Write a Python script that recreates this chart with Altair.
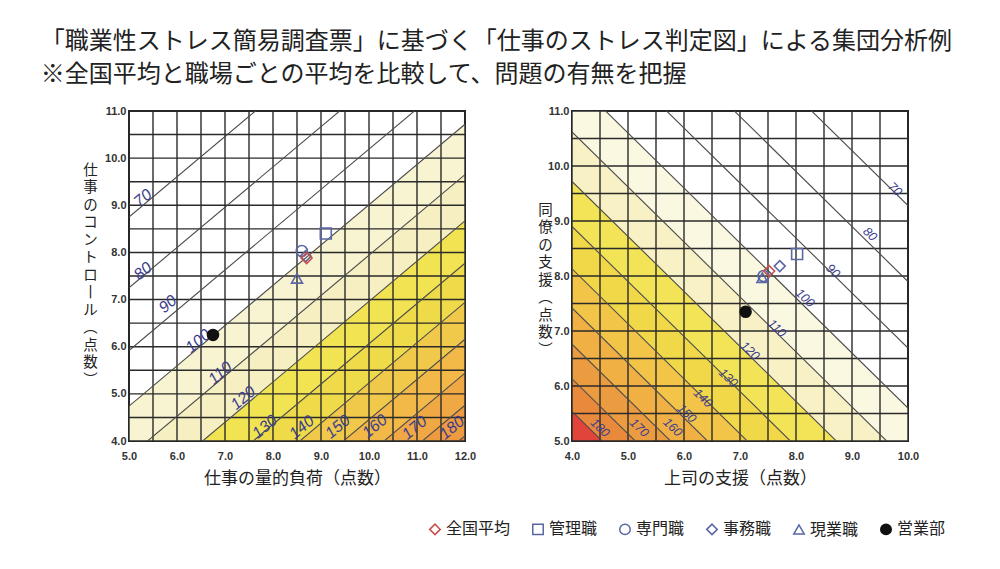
import altair as alt
import pandas as pd

TITLE_1 = "「職業性ストレス簡易調査票」に基づく「仕事のストレス判定図」による集団分析例"
TITLE_2 = "※全国平均と職場ごとの平均を比較して、問題の有無を把握"

# contour levels (health risk) drawn in both charts
levels = [70, 80, 90, 100, 110, 120, 130, 140, 150, 160, 170, 180]

# left chart: y value of each contour line at x=5.0 and at x=12.0
left_line_y_start = [8.75, 7.25, 5.92, 4.74, 3.67, 2.69, 1.79, 0.96, 0.19, -0.54, -1.22, -1.86]
left_line_y_end = [14.73, 13.23, 11.90, 10.72, 9.65, 8.67, 7.77, 6.94, 6.16, 5.44, 4.76, 4.11]
# right chart: y value of each contour line at x=4.0 and at x=10.0
right_line_y_start = [15.28, 13.90, 12.69, 11.60, 10.62, 9.72, 8.90, 8.13, 7.42, 6.76, 6.13, 5.54]
right_line_y_end = [9.28, 7.90, 6.69, 5.60, 4.62, 3.72, 2.90, 2.13, 1.42, 0.76, 0.13, -0.46]

# contour label positions
left_label_x = [5.29, 5.29, 5.81, 6.44, 6.90, 7.38, 7.83, 8.60, 9.35, 10.12, 10.95, 11.73]
left_label_y = [9.15, 7.60, 6.90, 6.12, 5.44, 4.91, 4.30, 4.29, 4.30, 4.31, 4.28, 4.28]
right_label_x = [9.77, 9.32, 8.66, 8.16, 7.66, 7.18, 6.79, 6.34, 6.05, 5.80, 5.20, 4.50]
right_label_y = [9.58, 8.76, 8.09, 7.60, 7.05, 6.64, 6.15, 5.78, 5.50, 5.25, 5.24, 5.24]

# groups plotted
groups = ["事務職", "専門職", "管理職", "現業職", "全国平均", "営業部"]
left_x = [8.68, 8.60, 9.10, 8.50, 8.70, 6.75]
left_y = [7.92, 8.03, 8.40, 7.45, 7.88, 6.25]
right_x = [7.71, 7.42, 8.02, 7.40, 7.52, 7.10]
right_y = [8.18, 8.00, 8.40, 7.97, 8.09, 7.35]

legend_order = ["全国平均", "管理職", "専門職", "事務職", "現業職", "営業部"]
legend_shapes = ["diamond", "square", "circle", "diamond", "triangle-up", "circle"]
legend_stroke = ["#c8504c", "#5a67a4", "#5a67a4", "#5a67a4", "#5a67a4", "#111111"]
legend_fill = ["transparent", "transparent", "transparent", "transparent", "transparent", "#111111"]

# gridlines
left_grid_x = [5.0, 5.5, 6.0, 6.5, 7.0, 7.5, 8.0, 8.5, 9.0, 9.5, 10.0, 10.5, 11.0, 11.5, 12.0]
left_grid_y = [4.0, 4.5, 5.0, 5.5, 6.0, 6.5, 7.0, 7.5, 8.0, 8.5, 9.0, 9.5, 10.0, 10.5, 11.0]
right_grid_x = [4.0, 4.5, 5.0, 5.5, 6.0, 6.5, 7.0, 7.5, 8.0, 8.5, 9.0, 9.5, 10.0]
right_grid_y = [5.0, 5.5, 6.0, 6.5, 7.0, 7.5, 8.0, 8.5, 9.0, 9.5, 10.0, 10.5, 11.0]
left_ticks_x = [5.0, 6.0, 7.0, 8.0, 9.0, 10.0, 11.0, 12.0]
left_ticks_y = [4.0, 5.0, 6.0, 7.0, 8.0, 9.0, 10.0, 11.0]
right_ticks_x = [4.0, 5.0, 6.0, 7.0, 8.0, 9.0, 10.0]
right_ticks_y = [5.0, 6.0, 7.0, 8.0, 9.0, 10.0, 11.0]

# band colours for risk >= 100 (100-110, 110-120, ..., 180+)
left_band_colors = ["#f8f3d0", "#f6efc2", "#f1e352", "#efdb4a", "#f1c94a", "#f2b848",
                    "#f0a845", "#ed9a40", "#e8893a"]
right_band_colors = ["#fbf8e2", "#f8f1c6", "#f2e456", "#f0d848", "#f2c448", "#f0b044",
                     "#ec9c40", "#e8893c", "#e0443a"]

LEFT_YTITLE = ["仕", "事", "の", "コ", "ン", "ト", "ロ", "丨", "ル", "︵", "点", "数", "︶"]
RIGHT_YTITLE = ["同", "僚", "の", "支", "援", "︵", "点", "数", "︶"]

CJK = "Noto Sans CJK JP"
LABEL_COLOR = "#3c3e8c"


def panel(xmin, xmax, ymin, ymax, ys_start, ys_end, band_colors, lab_x, lab_y,
          lab_angle, lab_size, mk_x, mk_y, gx, gy, tx, ty, xtitle, ytitle,
          ytitle_x, ytitle_y, prefix, show_legend):
    xs = alt.Scale(domain=[xmin, xmax], nice=False, zero=False)
    ys = alt.Scale(domain=[ymin, ymax], nice=False, zero=False)
    xa = alt.Axis(
        values=tx, format=".1f", grid=False, ticks=False, domain=False,
        title=xtitle, titleFontSize=17, titleFont=CJK, titleFontWeight="normal",
        titleColor="#222", titleY=37, titleBaseline="middle",
        labelPadding=9, labelFlush=False)
    ya = alt.Axis(
        values=ty, format=".1f", grid=False, ticks=False, domain=False,
        title=ytitle, titleFontSize=14.5, titleFont=CJK, titleFontWeight="normal",
        titleColor="#222", titleAngle=0, titleAlign="center", titleBaseline="top",
        titleX=ytitle_x, titleY=ytitle_y, titleLineHeight=17.5,
        labelPadding=3, labelFlush=False)

    def X(f):
        return alt.X(f, scale=xs, axis=xa)

    def Y(f):
        return alt.Y(f, scale=ys, axis=ya)

    rows = []
    names = []
    for i, lv in enumerate(levels):
        if lv < 100:
            continue
        name = f"{prefix}{lv}"
        names.append(name)
        if i + 1 < len(levels):
            lo_s, lo_e = ys_start[i + 1], ys_end[i + 1]
        else:
            lo_s, lo_e = ys_start[i] - 20, ys_end[i] - 20
        rows.append({"band": name, "x": xmin, "lo": lo_s, "hi": ys_start[i]})
        rows.append({"band": name, "x": xmax, "lo": lo_e, "hi": ys_end[i]})
    bands = pd.DataFrame(rows)

    area = alt.Chart(bands).mark_area(clip=True, orient="vertical", interpolate="linear").encode(
        x=X("x:Q"), y=Y("lo:Q"), y2="hi:Q",
        color=alt.Color("band:N", scale=alt.Scale(domain=names, range=band_colors), legend=None),
    )

    vgrid = alt.Chart(pd.DataFrame({"x": gx})).mark_rule(color="#2a2a2a", strokeWidth=1.4).encode(
        x=X("x:Q"))
    hgrid = alt.Chart(pd.DataFrame({"lo": gy})).mark_rule(color="#2a2a2a", strokeWidth=1.4).encode(
        y=Y("lo:Q"))

    lines_df = pd.DataFrame({"level": levels, "x": [xmin] * len(levels), "x2": [xmax] * len(levels),
                             "lo": ys_start, "y2": ys_end})
    lines = alt.Chart(lines_df).mark_rule(clip=True, color="#4a4a4a", strokeWidth=1.1).encode(
        x=X("x:Q"), x2="x2:Q", y=Y("lo:Q"), y2="y2:Q")

    lab_df = pd.DataFrame({"level": levels, "x": lab_x, "lo": lab_y})
    labels = alt.Chart(lab_df).mark_text(
        angle=lab_angle, font="Liberation Sans", fontSize=lab_size, color=LABEL_COLOR,
        fontStyle="italic").encode(
        x=X("x:Q"), y=Y("lo:Q"), text=alt.Text("level:Q"))

    mk_df = pd.DataFrame({"group": groups, "x": mk_x, "lo": mk_y})
    leg = alt.Legend(title=None) if show_legend else None
    markers = alt.Chart(mk_df).mark_point(size=120, strokeWidth=1.6, opacity=1).encode(
        x=X("x:Q"), y=Y("lo:Q"),
        shape=alt.Shape("group:N", scale=alt.Scale(domain=legend_order, range=legend_shapes), legend=leg),
        stroke=alt.Stroke("group:N", scale=alt.Scale(domain=legend_order, range=legend_stroke), legend=leg),
        fill=alt.Fill("group:N", scale=alt.Scale(domain=legend_order, range=legend_fill), legend=leg),
    )

    return alt.layer(area, vgrid, hgrid, lines, labels, markers).properties(width=336, height=330)


left = panel(5.0, 12.0, 4.0, 11.0, left_line_y_start, left_line_y_end, left_band_colors,
             left_label_x, left_label_y, 320, 16, left_x, left_y,
             left_grid_x, left_grid_y, left_ticks_x, left_ticks_y,
             "仕事の量的負荷（点数）", LEFT_YTITLE, -39, 52, "L", True)
right = panel(4.0, 10.0, 5.0, 11.0, right_line_y_start, right_line_y_end, right_band_colors,
              right_label_x, right_label_y, 44, 12.5, right_x, right_y,
              right_grid_x, right_grid_y, right_ticks_x, right_ticks_y,
              "上司の支援（点数）", RIGHT_YTITLE, -27, 92, "R", False)

chart = alt.hconcat(left, right, spacing=107, bounds="flush").resolve_scale(
    color="independent").properties(
    title=alt.TitleParams(text=[TITLE_1, TITLE_2], anchor="start", font=CJK, fontSize=24,
                          fontWeight="normal", color="#222", lineHeight=33, dx=-41, offset=17),
    padding={"left": 32, "top": 22, "right": 10, "bottom": 10},
).configure_view(stroke="#222", strokeWidth=2).configure_axis(
    labelFont="Liberation Sans", labelFontWeight="bold", labelFontSize=11, labelColor="#333"
).configure_legend(
    orient="none", legendX=298, legendY=410, direction="horizontal", columns=6,
    labelFont=CJK, labelFontSize=16, labelColor="#222", symbolSize=110,
    symbolStrokeWidth=1.5, columnPadding=18, labelOffset=3
)

chart.save("out.html", embed_options={"renderer": "svg", "actions": False})
